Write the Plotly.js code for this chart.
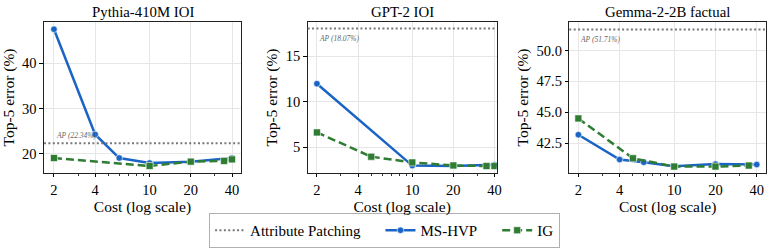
<!DOCTYPE html>
<html><head><meta charset="utf-8">
<script src="https://cdn.plot.ly/plotly-3.0.1.min.js"></script>
<style>html,body{margin:0;padding:0;background:#fff}#chart{width:773px;height:251px}</style>
</head><body><div id="chart"></div>
<script>
// Panel titles
const panelTitles = ["Pythia-410M IOI", "GPT-2 IOI", "Gemma-2-2B factual"];
// Legend names
const legendNames = ["Attribute Patching", "MS-HVP", "IG"];
// Pythia-410M IOI
const pyCostHVP = [2, 4, 6, 10, 20, 40];
const pyHVP     = [47.5, 24.3, 19.1, 18.0, 18.3, 19.1];
const pyCostIG  = [2, 10, 20, 35, 40];
const pyIG      = [19.1, 17.35, 18.3, 18.45, 18.8];
const pyAP = 22.34;
// GPT-2 IOI
const gpCostHVP = [2, 10, 20, 40];
const gpHVP     = [12.0, 3.0, 2.95, 3.1];
const gpCostIG  = [2, 5, 10, 20, 35, 40];
const gpIG      = [6.65, 3.98, 3.35, 3.02, 2.95, 2.95];
const gpAP = 18.07;
// Gemma-2-2B factual
const gmCostHVP = [2, 4, 6, 10, 20, 40];
const gmHVP     = [43.18, 41.17, 40.95, 40.62, 40.8, 40.76];
const gmCostIG  = [2, 5, 10, 20, 35];
const gmIG      = [44.5, 41.27, 40.6, 40.6, 40.68];
const gmAP = 51.71;
// Tick labels
const xTickVals = [2, 4, 10, 20, 40];
const xTickText = ["2", "4", "10", "20", "40"];
const xMinorVals = [3, 5, 6, 7, 8, 9, 30];

const BLUE = "#1a64c6", GREEN = "#2e7d32", GRAY = "#777777";
const FONT = "'Liberation Serif', 'Times New Roman', serif";
const PAD = "\u00a0\u00a0\u00a0\u00a0";

const panels = [
  {cH: pyCostHVP, h: pyHVP, cI: pyCostIG, i: pyIG, ap: pyAP, xr: [0.228, 1.668], yr: [15.8, 49.1], dtick: 10, fmt: "", dom: [0.0569, 0.3118]},
  {cH: gpCostHVP, h: gpHVP, cI: gpCostIG, i: gpIG, ap: gpAP, xr: [0.233, 1.619], yr: [2.19, 18.78], dtick: 5, fmt: "", dom: [0.398, 0.6426]},
  {cH: gmCostHVP, h: gmHVP, cI: gmCostIG, i: gmIG, ap: gmAP, xr: [0.235, 1.670], yr: [40.08, 52.31], dtick: 2.5, fmt: ".1f", dom: [0.7365, 0.991]}
];

const data = [], shapes = [], annotations = [];
const layout = {
  width: 773, height: 251,
  margin: {l: 0, r: 0, t: 0, b: 0},
  paper_bgcolor: "#fff", plot_bgcolor: "#fff",
  font: {family: FONT, color: "#000", size: 14},
  showlegend: true,
  legend: {orientation: "h", x: 0.4975, xanchor: "center", y: 0.012, yanchor: "bottom",
           bordercolor: "#b0b0b0", borderwidth: 1, font: {size: 15, family: FONT},
           itemwidth: 30, tracegroupgap: 0, traceorder: "normal"},
};

panels.forEach((p, k) => {
  const n = k === 0 ? "" : String(k + 1);
  const xa = "x" + n, ya = "y" + n;
  data.push({
    type: "scatter", mode: "lines+markers", x: p.cH, y: p.h, xaxis: xa, yaxis: ya,
    name: legendNames[1] + PAD, legendgroup: "hvp", showlegend: k === 0, legendrank: 2,
    line: {color: BLUE, width: 2.5},
    marker: {symbol: "circle", size: 6.5, color: BLUE, line: {color: "#ffffff", width: 0.6}}
  });
  data.push({
    type: "scatter", mode: "lines+markers", x: p.cI, y: p.i, xaxis: xa, yaxis: ya,
    name: legendNames[2], legendgroup: "ig", showlegend: k === 0, legendrank: 3,
    line: {color: GREEN, width: 2.5, dash: "8px,4px"},
    marker: {symbol: "square", size: 7, color: GREEN, line: {color: "#ffffff", width: 0.6}}
  });
  shapes.push({
    type: "line", xref: xa + " domain", yref: ya, x0: 0, x1: 1, y0: p.ap, y1: p.ap,
    line: {color: GRAY, width: 2, dash: "2px,2.4px"},
    showlegend: k === 0, name: legendNames[0] + PAD, legendrank: 1, legendgroup: "ap"
  });
  const above = k === 0;
  annotations.push({
    xref: xa, yref: ya, x: Math.log10(2), y: p.ap, xanchor: "left",
    yanchor: above ? "bottom" : "top", yshift: above ? 1 : -4,
    text: "<i>AP (" + p.ap.toFixed(2) + "%)</i>", showarrow: false,
    font: {size: 7.5, color: "#666666", family: FONT}
  });
  annotations.push({
    xref: "paper", yref: "paper", x: (p.dom[0] + p.dom[1]) / 2, y: (251 - 12) / 251,
    xanchor: "center", yanchor: "middle", text: panelTitles[k], showarrow: false,
    font: {size: 14.8, family: FONT}
  });
  layout["xaxis" + n] = {
    type: "log", range: p.xr, domain: p.dom, anchor: ya,
    tickmode: "array", tickvals: xTickVals, ticktext: xTickText,
    ticks: "outside", ticklen: 3.5, tickwidth: 1, tickcolor: "#000",
    minor: {tickmode: "array", tickvals: xMinorVals, ticks: "outside", ticklen: 2, tickwidth: 0.8, tickcolor: "#000", showgrid: false},
    showgrid: true, gridcolor: "#e6e6e6", gridwidth: 1,
    showline: true, linecolor: "#222", linewidth: 1, mirror: true, zeroline: false,
    tickfont: {size: 14.5, family: FONT},
    title: {text: "Cost (log scale)", font: {size: 15.5, family: FONT}, standoff: 3},
    automargin: false
  };
  layout["yaxis" + n] = {
    range: p.yr, domain: [0.3108, 0.9124], anchor: xa,
    dtick: p.dtick, tickformat: p.fmt,
    ticks: "outside", ticklen: 3.5, tickwidth: 1, tickcolor: "#000",
    showgrid: true, gridcolor: "#e6e6e6", gridwidth: 1,
    showline: true, linecolor: "#222", linewidth: 1, mirror: true, zeroline: false,
    tickfont: {size: 14.5, family: FONT},
    title: {text: "Top-5 error (%)", font: {size: 15.5, family: FONT}, standoff: 4},
    automargin: false
  };
});
layout.shapes = shapes;
layout.annotations = annotations;

Plotly.newPlot("chart", data, layout, {staticPlot: true, displayModeBar: false});
</script></body></html>
